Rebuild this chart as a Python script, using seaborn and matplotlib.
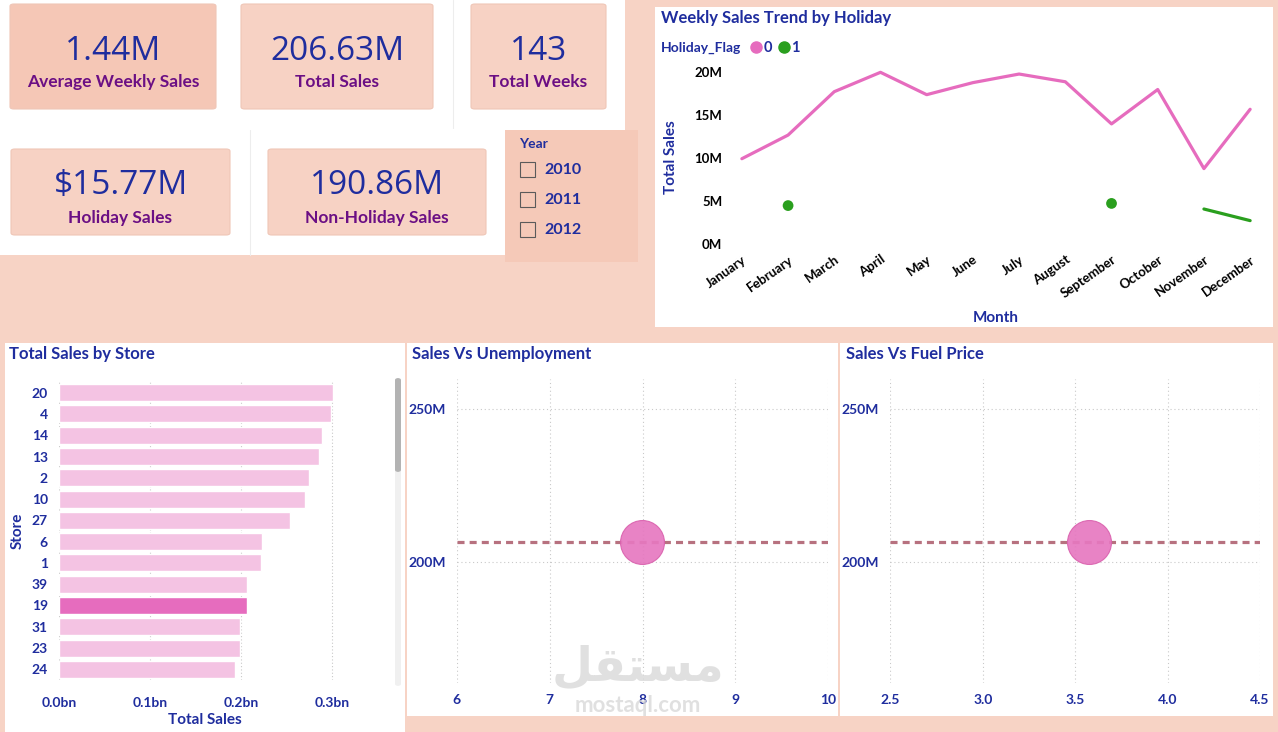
import numpy as np
import pandas as pd
import seaborn as sns
import matplotlib.pyplot as plt
from matplotlib.patches import Rectangle, FancyBboxPatch
from matplotlib.lines import Line2D
from matplotlib.ticker import FuncFormatter

# ---- data ----
months = ["January", "February", "March", "April", "May", "June", "July",
          "August", "September", "October", "November", "December"]
sales_flag0 = [9.95e6, 12.7e6, 17.75e6, 20.0e6, 17.4e6, 18.8e6, 19.8e6,
               18.9e6, 14.0e6, 18.0e6, 8.8e6, 15.7e6]
sales_flag1 = [np.nan, 4.5e6, np.nan, np.nan, np.nan, np.nan, np.nan,
               np.nan, 4.75e6, np.nan, 4.1e6, 2.75e6]

stores = ["20", "4", "14", "13", "2", "10", "27", "6", "1", "39", "19", "31", "23", "24"]
store_sales = [0.301, 0.299, 0.289, 0.286, 0.275, 0.271, 0.254, 0.223, 0.222,
               0.207, 0.2066, 0.199, 0.199, 0.194]  # billions
selected_store = "19"

unemployment = [7.99]
fuel_price = [3.575]
total_sales = 206.63e6

kpi_values = ["1.44M", "206.63M", "143", "$15.77M", "190.86M"]
kpi_labels = ["Average Weekly Sales", "Total Sales", "Total Weeks",
              "Holiday Sales", "Non-Holiday Sales"]
years = ["2010", "2011", "2012"]

# ---- colours ----
BG = "#F7D3C5"
CARD = "#F7D2C4"
NAVY = "#1F2D9E"
PURPLE = "#6B0F84"
PINK = "#E66CBE"
LIGHT_PINK = "#F4C3E3"
GREEN = "#2A9F1E"
GRID = "#C9C9C9"

sns.set_theme(style="white")
plt.rcParams["font.family"] = ["Lato", "DejaVu Sans"]

W, H = 1278, 732


def fbox(x0, y0, x1, y1):
    return [x0 / W, 1 - y1 / H, (x1 - x0) / W, (y1 - y0) / H]


def fx(x):
    return x / W


def fy(y):
    return 1 - y / H


def rect(x0, y0, x1, y1, color, rounded=False, ec="none", z=0):
    b = fbox(x0, y0, x1, y1)
    if rounded:
        p = FancyBboxPatch((b[0], b[1]), b[2], b[3], boxstyle="round,pad=0,rounding_size=0.003",
                           transform=fig.transFigure, facecolor=color, edgecolor=ec, lw=0.8, zorder=z)
    else:
        p = Rectangle((b[0], b[1]), b[2], b[3], transform=fig.transFigure,
                      facecolor=color, edgecolor=ec, lw=0.8, zorder=z)
    fig.add_artist(p)


fig = plt.figure(figsize=(12.78, 7.32), dpi=100, facecolor=BG)

# white panels
rect(0, 0, 625, 255, "white")
rect(655, 7, 1273, 327, "white")
rect(5, 343, 405, 732, "white")
rect(407, 343, 838, 716, "white")
rect(840, 343, 1273, 716, "white")
fig.add_artist(Line2D([fx(453), fx(453)], [fy(0), fy(128)], transform=fig.transFigure, color="#EDEDED", lw=0.8))
fig.add_artist(Line2D([fx(250), fx(250)], [fy(130), fy(255)], transform=fig.transFigure, color="#EDEDED", lw=0.8))

# ---- KPI cards (box, y of value, y of label) ----
cards = [((10, 4, 216, 109), 48, 82), ((241, 4, 433, 109), 48, 82), ((471, 4, 606, 109), 48, 82),
         ((11, 149, 230, 235), 183, 218), ((268, 149, 486, 235), 183, 218)]
for i, ((x0, y0, x1, y1), yv, yl) in enumerate(cards):
    rect(x0, y0, x1, y1, "#F5C7B6" if i == 0 else CARD, rounded=True, ec="#EFC6B7")
    cx = (x0 + x1) / 2
    fig.text(fx(cx), fy(yv + 3), kpi_values[i], ha="center", va="center",
             fontsize=24, color=NAVY, family=["Open Sans", "DejaVu Sans"])
    fig.text(fx(cx), fy(yl), kpi_labels[i], ha="center", va="center",
             fontsize=12.5, fontweight="bold", color=PURPLE)

# ---- year slicer ----
rect(505, 130, 638, 262, "#F5C9B8")
fig.text(fx(519), fy(144), "Year", ha="left", va="center", fontsize=10, fontweight="bold", color=NAVY)
for i, yr in enumerate(years):
    yc = 170 + 30 * i
    rect(520, yc - 8, 535, yc + 7, "none", ec="#5A5A5A")
    fig.text(fx(544), fy(yc), yr, ha="left", va="center", fontsize=11.5, fontweight="bold", color=NAVY)

# ---- weekly sales trend ----
ax1 = fig.add_axes(fbox(728, 62, 1264, 252))
ax1.set_facecolor("none")
idx = np.arange(len(months))
df_line = pd.DataFrame({"m": idx, "flag0": sales_flag0, "flag1": sales_flag1})
sns.lineplot(data=df_line, x="m", y="flag0", color=PINK, lw=2.3, ax=ax1)
s1 = df_line["flag1"]
isolated = s1.notna() & s1.shift(1).isna() & s1.shift(-1).isna()
sns.scatterplot(data=df_line[isolated], x="m", y="flag1", color=GREEN, s=60,
                edgecolor="none", ax=ax1)
seg = df_line[s1.notna() & ~isolated]
sns.lineplot(data=seg, x="m", y="flag1", color=GREEN, lw=2.3, ax=ax1)
ax1.set_xlim(-0.3, 11.3)
ax1.set_ylim(-0.9e6, 21.2e6)
ax1.set_yticks([0, 5e6, 10e6, 15e6, 20e6])
ax1.yaxis.set_major_formatter(FuncFormatter(lambda v, p: f"{v / 1e6:.0f}M"))
ax1.set_xticks(idx)
ax1.set_xticklabels(months, rotation=35, ha="right", rotation_mode="anchor",
                    fontsize=9.5, fontweight="bold", color="black")
ax1.tick_params(axis="y", labelsize=9.5, labelcolor="black", pad=4, length=0)
ax1.tick_params(axis="x", pad=1, length=0)
for t in ax1.get_yticklabels():
    t.set_fontweight("bold")
for s in ax1.spines.values():
    s.set_visible(False)
ax1.set_xlabel("Month", fontsize=11, fontweight="bold", color=NAVY, labelpad=8)
ax1.set_ylabel("Total Sales", fontsize=11, fontweight="bold", color=NAVY, labelpad=12)
fig.text(fx(661), fy(18), "Weekly Sales Trend by Holiday", fontsize=12, fontweight="bold",
         color=NAVY, ha="left", va="center")
fig.text(fx(661), fy(48), "Holiday_Flag", fontsize=10, fontweight="bold", color=NAVY,
         ha="left", va="center")
handles = [Line2D([], [], marker="o", ls="none", color=PINK, markersize=8),
           Line2D([], [], marker="o", ls="none", color=GREEN, markersize=8)]
fig.legend(handles, ["0", "1"], ncol=2, frameon=False, loc="center left",
           bbox_to_anchor=(fx(740), fy(48)), handletextpad=-0.1, columnspacing=0.2,
           handlelength=1.2, borderpad=0, prop={"weight": "bold", "size": 10.5}, labelcolor=NAVY)

# ---- total sales by store ----
ax2 = fig.add_axes(fbox(59, 382, 350, 680))
df_bar = pd.DataFrame({"store": stores, "sales": store_sales})
pal = {s: (PINK if s == selected_store else LIGHT_PINK) for s in stores}
sns.barplot(data=df_bar, x="sales", y="store", hue="store", palette=pal, order=stores,
            legend=False, width=0.8, saturation=1, ax=ax2, zorder=2)
ax2.set_xlim(0, 0.32)
ax2.set_xticks([0, 0.1, 0.2, 0.3])
ax2.xaxis.set_major_formatter(FuncFormatter(lambda v, p: f"{v:.1f}bn"))
ax2.grid(axis="x", color=GRID, ls=(0, (1, 2)), lw=0.8, zorder=0)
ax2.tick_params(axis="both", labelsize=10, labelcolor=NAVY, length=0)
ax2.tick_params(axis="y", pad=8)
ax2.tick_params(axis="x", pad=12)
for t in ax2.get_xticklabels() + ax2.get_yticklabels():
    t.set_fontweight("bold")
for s in ax2.spines.values():
    s.set_visible(False)
ax2.set_xlabel("Total Sales", fontsize=11, fontweight="bold", color=NAVY, labelpad=3)
ax2.set_ylabel("Store", fontsize=11, fontweight="bold", color=NAVY, labelpad=5)
fig.text(fx(9), fy(354), "Total Sales by Store", fontsize=12, fontweight="bold",
         color=NAVY, ha="left", va="center")
rect(395, 378, 401, 686, "#F0F0F0", rounded=True)
rect(395, 378, 401, 472, "#B3B3B3", rounded=True)

# ---- scatter panels ----
scatters = [
    ("Sales Vs Unemployment", unemployment, (456.7, 828.3), (6, 10), [6, 7, 8, 9, 10], "{:.0f}", 412),
    ("Sales Vs Fuel Price", fuel_price, (890.3, 1260), (2.5, 4.5), [2.5, 3.0, 3.5, 4.0, 4.5], "{:.1f}", 846),
]
for title, xv, (l, r), xl, xt, fmt, tx in scatters:
    ax = fig.add_axes(fbox(l, 379, r, 683))
    ax.set_facecolor("none")
    ax.axhline(total_sales, color="#B7717F", lw=2.3, ls=(0, (2.2, 1.6)), zorder=1)
    sns.scatterplot(x=xv, y=[total_sales], s=1000, color="#E678C0", edgecolor="#DA62AE",
                    linewidth=0.8, alpha=0.92, ax=ax, zorder=3)
    ax.set_xlim(*xl)
    ax.set_ylim(160.6e6, 259.8e6)
    ax.set_xticks(xt)
    ax.set_xticklabels([fmt.format(v) for v in xt])
    ax.set_yticks([200e6, 250e6])
    ax.yaxis.set_major_formatter(FuncFormatter(lambda v, p: f"{v / 1e6:.0f}M"))
    ax.grid(True, color=GRID, ls=(0, (1, 2.5)), lw=0.8)
    ax.tick_params(axis="both", labelsize=10, labelcolor=NAVY, length=0)
    ax.tick_params(axis="x", pad=8)
    ax.tick_params(axis="y", pad=8)
    for t in ax.get_xticklabels() + ax.get_yticklabels():
        t.set_fontweight("bold")
    for s in ax.spines.values():
        s.set_visible(False)
    ax.set_xlabel("")
    ax.set_ylabel("")
    fig.text(fx(tx), fy(354), title, fontsize=12, fontweight="bold", color=NAVY,
             ha="left", va="center")

# watermark
fig.text(fx(638), fy(668), "\uFEDE\uFED8\uFE98\uFEB4\uFEE3", fontsize=34, fontweight="bold",
         color="#D9D9D9", alpha=0.8, ha="center", va="center", family=["DejaVu Sans"], zorder=0)
fig.text(fx(638), fy(706), "mostaql.com", fontsize=16, fontweight="bold",
         color="#D9D9D9", alpha=0.8, ha="center", va="center", zorder=0)

fig.savefig("out.png", dpi=100, facecolor=BG)
